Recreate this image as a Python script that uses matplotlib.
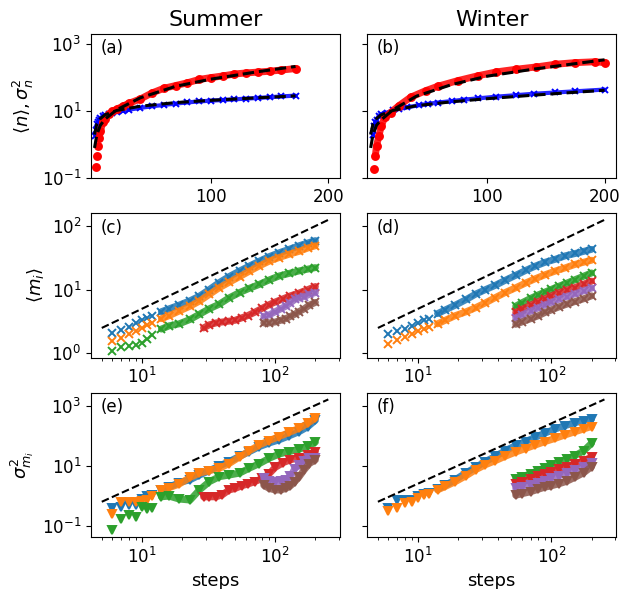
import numpy as np
import matplotlib
matplotlib.use('Agg')
from matplotlib import pyplot as plt
from matplotlib.ticker import NullLocator

# ---- top row: <n> (blue x) and sigma_n^2 (red o) vs steps ----
sum_var_x = [2, 3, 4, 5, 6, 8, 10, 13, 16, 20, 25, 30, 40, 50, 60, 70, 80, 90, 100, 110, 120, 130, 140, 150, 160, 172]
sum_var_y = [0.21, 0.47, 0.93, 1.6, 2.5, 4.6, 6.0, 8.1, 9.8, 11.5, 14, 17, 23, 35, 48, 58, 70, 88, 100, 112, 128, 138, 146, 155, 168, 186]
sum_mean_x = [1, 2, 3, 4, 5, 6, 8, 10, 13, 16, 20, 25, 30, 40, 50, 60, 70, 80, 90, 100, 110, 120, 130, 140, 150, 160, 172]
sum_mean_y = [1.8, 2.8, 4.0, 4.8, 5.5, 6.2, 7.0, 7.5, 8.0, 8.6, 9.3, 10.2, 11, 12.5, 14, 15.3, 16.8, 18.2, 19.5, 20.5, 21.5, 22.5, 23.6, 24.8, 26, 27.5, 29]
sum_fit_x = [1, 3, 6, 10, 20, 40, 70, 100, 140, 172]
sum_fit_mean = [2.0, 4.2, 6.0, 7.8, 10.5, 14, 18, 21, 25, 28.5]
sum_fit_var = [0.8, 2.0, 3.8, 5.8, 11, 25, 55, 90, 150, 215]

win_var_x = [4, 5, 6, 8, 10, 13, 18, 25, 35, 48, 58, 75, 92, 108, 125, 142, 158, 175, 192, 200]
win_var_y = [0.19, 0.46, 0.93, 1.8, 3.6, 6.5, 9.1, 14.5, 26, 41, 55, 81, 113, 148, 178, 208, 250, 280, 297, 280]
win_mean_x = [3, 4, 5, 6, 8, 10, 15, 20, 25, 32, 42, 50, 58, 70, 80, 92, 108, 125, 140, 158, 175, 200]
win_mean_y = [2.0, 3.5, 4.6, 5.6, 7.3, 8.2, 9.1, 10.5, 11.5, 13, 15, 16.5, 18, 20, 22, 24, 27, 30, 33, 36, 39, 44]
win_fit_x = [1, 3, 6, 10, 20, 40, 70, 100, 140, 200]
win_fit_mean = [2.0, 4.2, 6.0, 7.8, 10.5, 14.5, 19, 23.5, 30, 42]
win_fit_var = [0.8, 2.0, 3.8, 5.5, 11, 28, 62, 110, 180, 340]

# ---- middle / bottom rows: six groups i ----
steps_a = [6, 7, 8, 9, 10, 11, 12, 14, 16, 19, 23, 27, 32, 38, 45, 54, 64, 76, 90, 107, 127, 151, 175, 200]
steps_red_sum = [29, 32, 36, 40, 45, 50, 56, 62, 70, 80, 90, 100, 115, 130, 150, 175, 200]
steps_late_sum = [82, 90, 100, 110, 120, 130, 140, 150, 165, 180, 200]
steps_late_win = [54, 60, 70, 80, 90, 100, 115, 130, 150, 175, 200]

# <m_i> summer
m_sum = [
    [2.1, 2.3, 2.6, 3.0, 3.3, 3.6, 3.9, 4.5, 5.0, 5.7, 6.7, 7.9, 10, 12.9, 16, 19.6, 23.5, 28, 33, 38, 43, 49, 54, 59],
    [1.56, 1.75, 2.0, 2.2, 2.5, 2.75, 3.0, 3.5, 3.9, 4.6, 5.5, 6.6, 8.4, 10.7, 13, 16, 19.5, 23.6, 28, 32, 36, 40, 45, 49],
    [1.09, 1.25, 1.32, 1.35, 1.44, 1.7, 1.95, 2.4, 2.7, 2.9, 3.4, 4.1, 5.0, 5.9, 7.4, 9.0, 10.5, 12.1, 14.2, 16.4, 18, 19.7, 21, 22.2],
    [2.5, 2.8, 3.0, 3.1, 3.2, 3.3, 3.6, 3.9, 4.4, 5.1, 5.8, 6.4, 7.2, 8.0, 8.8, 10, 11.2],
    [3.8, 4.0, 4.5, 5.0, 5.5, 6.2, 7.0, 7.4, 7.8, 8.4, 9.0],
    [3.0, 3.0, 3.1, 3.3, 3.5, 3.8, 4.1, 4.5, 5.0, 5.7, 6.3],
]
# <m_i> winter
m_win = [
    [2.0, 2.2, 2.4, 2.7, 3.0, 3.3, 3.5, 4.2, 4.8, 5.7, 7.0, 8.5, 10, 11.7, 14, 16.8, 20, 23.5, 27, 30, 34, 37, 40, 43],
    [1.4, 1.6, 1.8, 2.0, 2.2, 2.4, 2.55, 2.9, 3.3, 3.9, 4.5, 5.2, 6.2, 7.5, 9.0, 10.7, 12.7, 14.9, 17.2, 19.6, 22, 25, 27, 29],
    [5.5, 6.2, 7.3, 8.3, 9.2, 10.1, 11.4, 12.6, 14.3, 16.3, 18.3],
    [4.4, 4.9, 5.7, 6.5, 7.2, 8.0, 9.0, 9.8, 10.8, 12.2, 13.6],
    [3.6, 4.0, 4.6, 5.2, 5.8, 6.3, 7.1, 7.8, 8.6, 9.6, 10.6],
    [2.85, 3.1, 3.5, 3.9, 4.4, 4.8, 5.4, 5.9, 6.5, 7.2, 8.0],
]
# sigma^2_{m_i} summer
v_sum = [
    [0.39, 0.44, 0.5, 0.5, 0.8, 1.0, 1.1, 1.6, 2.0, 2.8, 3.5, 5, 7, 10, 14, 21, 30, 44, 58, 74, 100, 138, 200, 330],
    [0.25, 0.65, 0.65, 0.65, 0.7, 0.75, 1.0, 1.6, 1.9, 2.5, 4.2, 5.8, 7, 8.3, 12, 20, 32, 50, 70, 95, 130, 180, 260, 390],
    [0.078, 0.17, 0.23, 0.21, 0.42, 0.38, 0.40, 0.95, 1.0, 0.8, 0.74, 1.6, 3.0, 4.4, 5.0, 5.8, 8.5, 12, 18, 25, 30, 36, 45, 62],
    [0.95, 0.95, 0.95, 1.1, 1.6, 1.8, 2.2, 2.5, 3.0, 3.9, 5.5, 9, 13, 16, 19, 23, 30],
    [3.9, 3.2, 3.0, 3.1, 3.4, 4.5, 8, 11, 15, 18, 19],
    [2.3, 1.8, 1.6, 1.6, 1.8, 2.2, 3.0, 4.2, 7.5, 12, 16],
]
# sigma^2_{m_i} winter
v_win = [
    [0.39, 0.74, 0.74, 0.74, 1.0, 1.2, 1.3, 1.7, 2.3, 3.5, 6, 9, 14, 21, 32, 48, 65, 90, 125, 170, 220, 275, 320, 360],
    [0.32, 0.39, 0.6, 0.65, 0.9, 1.05, 1.2, 1.6, 2.1, 3.0, 4.8, 7.5, 11, 15, 21, 29, 38, 50, 65, 83, 108, 138, 170, 205],
    [3.6, 4.3, 5.6, 7, 8.5, 10.5, 13.5, 17, 22, 32, 57],
    [2.6, 3.0, 3.7, 4.5, 5.3, 6.3, 7.8, 9.3, 11.5, 15, 20],
    [1.8, 2.0, 2.3, 2.8, 3.3, 3.9, 4.8, 5.8, 7.3, 9.5, 12.3],
    [1.07, 1.2, 1.4, 1.7, 2.0, 2.2, 2.6, 3.1, 4.2, 6, 9.5],
]
sum_x = [steps_a, steps_a, steps_a, steps_red_sum, steps_late_sum, steps_late_sum]
win_x = [steps_a, steps_a, steps_late_win, steps_late_win, steps_late_win, steps_late_win]

# reference power laws
ref_x = [5, 250]
ref_m = [2.5, 125]
ref_v = [0.65, 1625]

colors = ['tab:blue', 'tab:orange', 'tab:green', 'tab:red', 'tab:purple', 'tab:brown']

plt.rcParams['font.size'] = 12
fig, axs = plt.subplots(3, 2, figsize=(6.21, 5.89), dpi=100)
fig.subplots_adjust(left=0.1465, right=0.9925, top=0.9423, bottom=0.0883, wspace=0.108, hspace=0.244)


def band(ax, x, y, c, marker, ms, lw, start):
    x = np.array(x, float)
    y = np.array(y, float)
    k = x >= start
    ax.plot(x[k], y[k], '-', color=c, lw=lw, alpha=0.85, solid_capstyle='round')
    ax.plot(x, y, marker, color=c, ms=ms, mew=1.4, ls='none')


# top row
for ax, vx, vy, mx, my, fx, fm, fv in [
        (axs[0, 0], sum_var_x, sum_var_y, sum_mean_x, sum_mean_y, sum_fit_x, sum_fit_mean, sum_fit_var),
        (axs[0, 1], win_var_x, win_var_y, win_mean_x, win_mean_y, win_fit_x, win_fit_mean, win_fit_var)]:
    band(ax, mx, my, 'blue', 'x', 4, 3, 3)
    band(ax, vx, vy, 'red', 'o', 5, 5, 5)
    ax.plot(fx, fm, 'k--', lw=2.2)
    ax.plot(fx, fv, 'k--', lw=2.2)
    ax.set_yscale('log')
    ax.set_ylim(0.1, 2000)
    ax.set_xlim(-2, 210)
    ax.set_xticks([100, 200])
    ax.set_yticks([0.1, 10, 1000])

# middle and bottom rows
for row, data_s, data_w, ref_y, mk in [(1, m_sum, m_win, ref_m, 'x'), (2, v_sum, v_win, ref_v, 'v')]:
    for col, data, xs in [(0, data_s, sum_x), (1, data_w, win_x)]:
        ax = axs[row, col]
        for i in range(6):
            band(ax, xs[i], data[i], colors[i], mk, 5.5 if mk == 'x' else 6, 5, 14)
        ax.plot(ref_x, ref_y, 'k--', lw=1.5)
        ax.set_xscale('log')
        ax.set_yscale('log')
        ax.set_xlim(4.15, 307)

for c in range(2):
    axs[1, c].set_ylim(0.855, 158)
    axs[1, c].set_yticks([1, 10, 100])
    axs[2, c].set_ylim(0.044, 2700)
    axs[2, c].set_yticks([0.1, 10, 1000])

for ax in axs.flat:
    ax.yaxis.set_minor_locator(NullLocator())
for r in range(3):
    axs[r, 1].tick_params(labelleft=False)

letters = ['(a)', '(b)', '(c)', '(d)', '(e)', '(f)']
for ax, t in zip(axs.flat, letters):
    ax.text(0.04, 0.9, t, transform=ax.transAxes, va='center', fontsize=12)

axs[0, 0].set_title('Summer', fontsize=16)
axs[0, 1].set_title('Winter', fontsize=16)
axs[0, 0].set_ylabel(r'$\langle n \rangle, \sigma_n^2$', fontsize=13)
axs[1, 0].set_ylabel(r'$\langle m_i \rangle$', fontsize=13)
axs[2, 0].set_ylabel(r'$\sigma^2_{m_i}$', fontsize=13)
axs[2, 0].set_xlabel('steps', fontsize=13)
axs[2, 1].set_xlabel('steps', fontsize=13)

plt.savefig('out.png', dpi=100)
